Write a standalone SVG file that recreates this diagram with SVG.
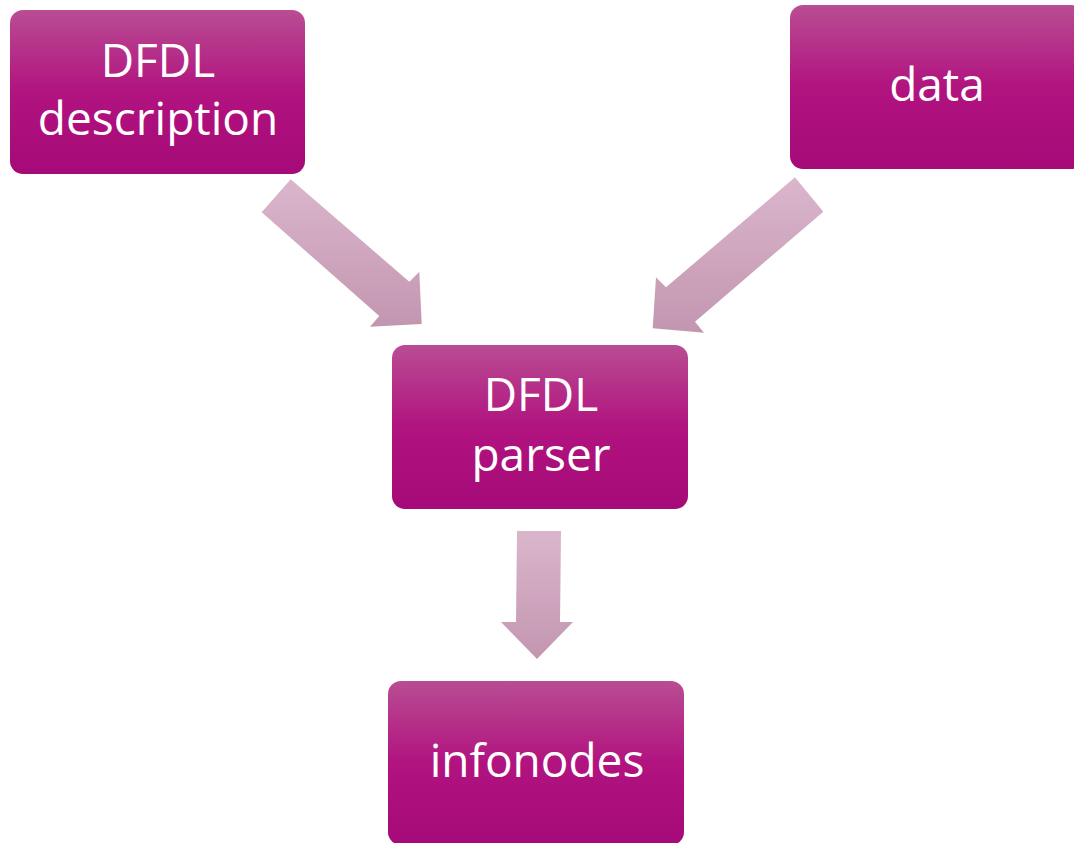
<svg xmlns="http://www.w3.org/2000/svg" width="1074" height="843" viewBox="0 0 1074 843">
<defs>
<linearGradient id="boxg" x1="0" y1="0" x2="0" y2="1">
<stop offset="0" stop-color="#b94d93"/>
<stop offset="0.5" stop-color="#b1137f"/>
<stop offset="1" stop-color="#a50a78"/>
</linearGradient>
<linearGradient id="arrg" x1="0" y1="0" x2="0" y2="1">
<stop offset="0" stop-color="#dab6cc"/>
<stop offset="1" stop-color="#c396b0"/>
</linearGradient>
<style>
.box{fill:url(#boxg);}
.arr{fill:url(#arrg);}
.lbl{font-family:"Open Sans","Noto Sans","Liberation Sans",sans-serif;font-size:46px;fill:#ffffff;text-anchor:middle;}
</style>
</defs>
<rect width="1074" height="843" fill="#ffffff"/>
<g id="connectors">
<polygon class="arr" points="290.7,179.3 409.3,281.7 419.3,271.7 421.7,324 370,326.7 379.3,316 261.7,212.3"/>
<polygon class="arr" points="795,177.3 823.3,211.7 695,321.7 704,332.7 652.7,328.3 656,277.3 666,287.3"/>
<polygon class="arr" points="517,531 561,531 560,622 573,622 537,659 501,622 516,622"/>
</g>
<g id="node-dfdl-description">
<rect class="box" x="10" y="10" width="295" height="164" rx="13"/>
<text class="lbl" x="158" y="77">DFDL</text>
<text class="lbl" x="158" y="135">description</text>
</g>
<g id="node-data">
<rect class="box" x="790" y="5" width="294" height="164" rx="13"/>
<text class="lbl" x="937" y="101">data</text>
</g>
<g id="node-dfdl-parser">
<rect class="box" x="392" y="345" width="296" height="164" rx="13"/>
<text class="lbl" x="541" y="411">DFDL</text>
<text class="lbl" x="541" y="471">parser</text>
</g>
<g id="node-infonodes">
<rect class="box" x="388" y="681" width="296" height="164" rx="13"/>
<text class="lbl" x="537" y="777">infonodes</text>
</g>
</svg>
